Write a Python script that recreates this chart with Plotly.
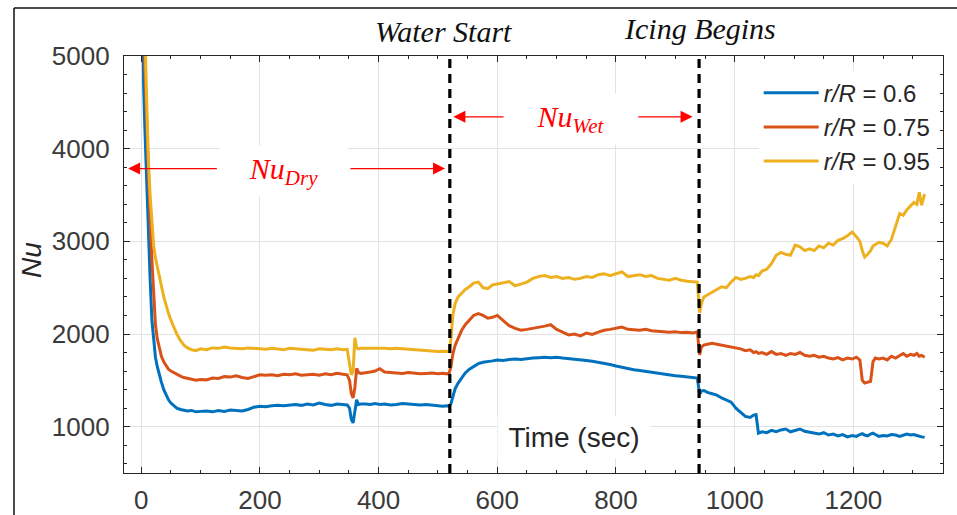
import plotly.graph_objects as go

# Time base (s) shared by the three radial stations
t_sec = [
    0, 2, 4, 6, 8, 10, 12, 15, 18, 21, 24, 27, 30, 34, 38, 42, 46, 50, 55, 60, 66, 72, 78, 85, 92, 100,
    110, 120, 130, 140, 150, 160, 170, 180, 190, 200, 210, 220, 230, 240, 250, 260, 270, 280, 290, 300,
    310, 320, 330, 340, 347,
    351, 354, 357, 360, 363, 366, 370,
    378, 386, 394, 402, 410, 420, 430, 440, 450, 460, 470, 480, 490, 500, 508, 515, 519,
    522, 525, 529, 534, 540, 546, 553, 560, 568, 576, 584, 592, 600, 610, 620, 630, 640, 650, 660, 670,
    680, 690, 700, 710, 720, 730, 740, 750, 760, 770, 780, 790, 800, 810, 820, 830, 840, 850, 860, 870,
    880, 890, 900, 910, 920, 930, 937,
    941, 944, 948, 954, 962, 970, 978, 986, 994, 1002, 1010, 1018, 1026, 1032, 1036, 1040, 1046, 1054,
    1062, 1070, 1078, 1086, 1094, 1102, 1110, 1118, 1126, 1134, 1142, 1150, 1158, 1166, 1174, 1182,
    1190, 1198, 1205, 1211, 1215, 1219, 1224, 1229, 1233, 1237, 1243, 1250, 1257, 1264, 1271, 1278,
    1284, 1290, 1296, 1302, 1307, 1311, 1315, 1320,
]

nu_r060 = [
    7000, 5600, 4700, 4250, 3850, 3450, 3050, 2600, 2150, 1900, 1750, 1650, 1570, 1480, 1400, 1340, 1290,
    1255, 1225, 1200, 1185, 1180, 1170, 1175, 1160, 1165,
    1170, 1160, 1175, 1165, 1180, 1175, 1170, 1185, 1210, 1220, 1215, 1225, 1230, 1225, 1235, 1240, 1230,
    1245, 1235, 1255, 1240, 1230, 1245, 1240, 1235,
    1200, 1080, 1040, 1170, 1290, 1240, 1245,
    1245, 1240, 1250, 1240, 1245, 1235, 1240, 1250, 1245, 1240, 1235, 1240, 1230, 1225, 1220, 1225, 1220,
    1250, 1330, 1410, 1470, 1530, 1580, 1620, 1650, 1680, 1695, 1700, 1710, 1720, 1715, 1725, 1730, 1725,
    1735, 1740, 1745, 1750, 1745, 1750, 1740, 1735, 1730, 1720, 1715, 1705, 1695, 1685, 1670, 1655, 1640,
    1625, 1615, 1605, 1595, 1585, 1575, 1565, 1560, 1550, 1545, 1540, 1530, 1525,
    1350, 1385, 1390, 1370, 1355, 1340, 1310, 1290, 1265, 1200, 1150, 1110, 1100, 1125, 1130, 930, 945,
    935, 960, 945, 965, 975, 945, 960, 975, 950, 940, 935, 920, 935, 910, 920, 900, 915, 890, 905, 895,
    915, 925, 910, 900, 920, 930, 915, 895, 905, 900, 915, 910, 895, 905, 920, 910, 915, 905, 895, 890, 885,
]

nu_r075 = [
    8000, 6500, 5500, 4900, 4500, 4100, 3750, 3250, 2800, 2400, 2100, 1950, 1850, 1760, 1700, 1660, 1620,
    1600, 1580, 1560, 1545, 1530, 1520, 1515, 1500, 1510,
    1505, 1525, 1520, 1540, 1535, 1550, 1530, 1520, 1540, 1560, 1555, 1560, 1550, 1565, 1560, 1570, 1555,
    1560, 1565, 1555, 1570, 1560, 1575, 1565, 1560,
    1500, 1360, 1310, 1420, 1630, 1585, 1575,
    1580, 1590, 1600, 1625, 1590, 1585, 1580, 1575, 1585, 1580, 1570, 1575, 1580, 1570, 1575, 1570, 1580,
    1650, 1780, 1880, 1960, 2040, 2100, 2150, 2200, 2220, 2200, 2170, 2180, 2200, 2150, 2090, 2060, 2040,
    2050, 2060, 2075, 2085, 2100, 2050, 2020, 1990, 2000, 1980, 2010, 1995, 2020, 2040, 2050, 2060, 2075,
    2050, 2045, 2040, 2050, 2035, 2030, 2025, 2020, 2025, 2015, 2020, 2010, 2025,
    1775, 1860, 1880, 1890, 1900, 1890, 1880, 1870, 1860, 1850, 1840, 1820, 1830, 1800, 1810, 1790, 1800,
    1780, 1810, 1780, 1790, 1770, 1790, 1780, 1800, 1770, 1760, 1770, 1750, 1760, 1740, 1730, 1745, 1720,
    1740, 1730, 1750, 1720, 1500, 1470, 1480, 1490, 1700, 1740, 1730, 1740, 1720, 1760, 1740, 1770, 1790,
    1760, 1780, 1770, 1790, 1760, 1770, 1750,
]

nu_r095 = [
    9000, 7500, 6200, 5400, 4800, 4300, 3900, 3500, 3200, 2950, 2820, 2720, 2650, 2520, 2400, 2300, 2220,
    2150, 2070, 2000, 1930, 1880, 1850, 1830, 1820, 1840,
    1830, 1850, 1845, 1860, 1850, 1845, 1840, 1850, 1845, 1840, 1835, 1845, 1840, 1830, 1845, 1840, 1835,
    1830, 1825, 1840, 1835, 1830, 1840, 1830, 1835,
    1700, 1560, 1600, 1960, 1850, 1840, 1845,
    1845, 1850, 1845, 1850, 1845, 1840, 1845, 1840, 1835, 1830, 1825, 1820, 1815, 1810, 1815, 1810, 1810,
    1950, 2200, 2330, 2400, 2440, 2480, 2510, 2550, 2560, 2500, 2490, 2530, 2540, 2550, 2565, 2520, 2540,
    2560, 2600, 2620, 2630, 2610, 2620, 2600, 2610, 2590, 2600, 2620, 2610, 2640, 2650, 2630, 2650, 2670,
    2620, 2630, 2640, 2620, 2630, 2600, 2590, 2580, 2600, 2580, 2570, 2560, 2560,
    2230, 2330, 2400, 2420, 2450, 2480, 2510, 2500, 2560, 2610, 2590, 2600, 2620, 2610, 2640, 2630, 2680,
    2700, 2760, 2850, 2880, 2860, 2850, 2960, 2940, 2900, 2920, 2900, 2950, 2930, 2980, 2960, 3010, 3030,
    3060, 3100, 3050, 3000, 2900, 2830, 2860, 2900, 2950, 2970, 2990, 2980, 2950, 3020, 3150, 3300, 3280,
    3340, 3380, 3420, 3400, 3530, 3390, 3510,
]

series_names = ["<i>r/R</i> = 0.6", "<i>r/R</i> = 0.75", "<i>r/R</i> = 0.95"]
series_colors = ["#0072BD", "#D95319", "#EDB120"]

# Event times (s)
t_water_start = 520
t_icing = 940

x_ticks = [0, 200, 400, 600, 800, 1000, 1200]
y_ticks = [1000, 2000, 3000, 4000, 5000]

for series in (nu_r060, nu_r075, nu_r095):
    assert len(series) == len(t_sec)

SANS = "Liberation Sans, Arial, Helvetica, sans-serif"
SERIF = "Liberation Serif, Times New Roman, serif"
AXIS_COLOR = "#262626"

fig = go.Figure()
for name, color, values in zip(series_names, series_colors, (nu_r060, nu_r075, nu_r095)):
    fig.add_trace(go.Scatter(
        x=t_sec, y=values, mode="lines", name=name,
        line=dict(color=color, width=3),
    ))

axis_common = dict(
    showline=True, linecolor=AXIS_COLOR, linewidth=1.2, mirror="ticks",
    ticks="inside", ticklen=6, tickwidth=1, tickcolor=AXIS_COLOR,
    showgrid=True, gridcolor="#e2e2e2", gridwidth=1, zeroline=False,
    automargin=False,
    tickfont=dict(family=SANS, size=26, color="#3a3a3a"),
)

fig.update_xaxes(
    range=[-29, 1351], tickvals=x_ticks,
    minor=dict(ticks="inside", dtick=50, tick0=0, ticklen=3, tickcolor=AXIS_COLOR, showgrid=False),
    ticklabelstandoff=4,
    **axis_common,
)
fig.update_yaxes(
    range=[500, 5000], tickvals=y_ticks,
    minor=dict(ticks="inside", dtick=200, tick0=0, ticklen=3, tickcolor=AXIS_COLOR, showgrid=False),
    ticklabelstandoff=8,
    **axis_common,
)

shapes = []
# Event markers
for t_event in (t_water_start, t_icing):
    shapes.append(dict(
        type="line", xref="x", yref="paper", x0=t_event, x1=t_event, y0=0, y1=1,
        line=dict(color="black", width=3.2, dash="9px,6px"), layer="above",
    ))
# Outer frame (left and top edges)
shapes.append(dict(type="line", xref="paper", yref="paper", x0=-0.1343, x1=-0.1343, y0=-0.2, y1=1.115,
                   line=dict(color="#111111", width=1.5)))
shapes.append(dict(type="line", xref="paper", yref="paper", x0=-0.1343, x1=1.02, y0=1.115, y1=1.115,
                   line=dict(color="#111111", width=1.5)))

centered = dict(xanchor="center", yanchor="middle", showarrow=False)
annotations = [
    dict(text="<i>Water Start</i>", xref="paper", yref="paper", x=0.3907, y=1.0576,
         font=dict(family=SERIF, size=30, color="#111111"), **centered),
    dict(text="<i>Icing Begins</i>", xref="paper", yref="paper", x=0.7033, y=1.067,
         font=dict(family=SERIF, size=30, color="#111111"), **centered),
    dict(text="<i>Nu</i>", xref="paper", yref="paper", x=-0.1123, y=0.511, textangle=-90,
         font=dict(family=SANS, size=28, color="#262626"), **centered),
    dict(text="Time (sec)", xref="x", yref="y", x=730, y=892,
         bgcolor="white", width=150, height=40,
         font=dict(family=SANS, size=28, color="#262626"), **centered),
    dict(text="<i>Nu<sub>Dry</sub></i>", xref="x", yref="y", x=239, y=3760,
         bgcolor="white", width=125, height=48,
         font=dict(family=SERIF, size=30, color="#ff0000"), **centered),
    dict(text="<i>Nu<sub>Wet</sub></i>", xref="x", yref="y", x=724, y=4320,
         bgcolor="white", width=125, height=48,
         font=dict(family=SERIF, size=30, color="#ff0000"), **centered),
]

# Arrows bounding the dry and wet regimes: (head_x, head_y, tail_x, tail_y)
arrow_specs = [
    (-22, 3785, 130, 3785),
    (512, 3785, 350, 3785),
    (526, 4344, 613, 4344),
    (929, 4344, 835, 4344),
]
for hx, hy, tx, ty in arrow_specs:
    annotations.append(dict(
        text="", x=hx, y=hy, ax=tx, ay=ty, xref="x", yref="y", axref="x", ayref="y",
        showarrow=True, arrowhead=2, arrowsize=2.0, arrowwidth=1.2, arrowcolor="#ff0000",
    ))

fig.update_layout(
    width=957, height=515,
    margin=dict(l=124, r=14, t=56, b=42, autoexpand=False),
    paper_bgcolor="white", plot_bgcolor="white",
    shapes=shapes, annotations=annotations,
    showlegend=True,
    legend=dict(
        x=0.775, y=0.965, xanchor="left", yanchor="top",
        bgcolor="white", borderwidth=0,
        font=dict(family=SANS, size=24, color="#262626"),
        itemwidth=55, tracegroupgap=0,
    ),
)

fig.write_html("out.html")
